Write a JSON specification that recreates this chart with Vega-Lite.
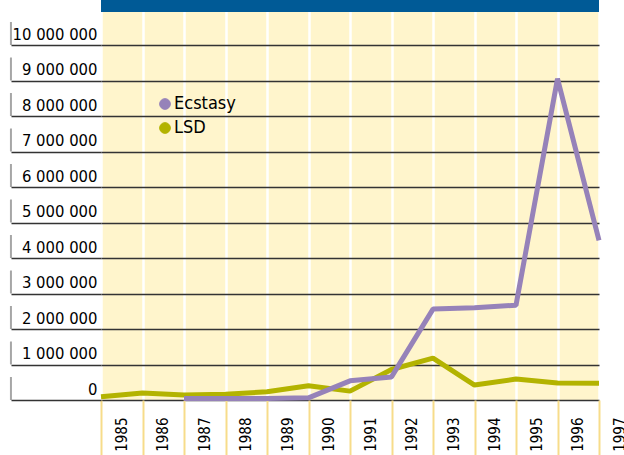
{
  "$schema": "https://vega.github.io/schema/vega-lite/v6.json",
  "width": 498,
  "height": 400,
  "autosize": {"type": "none"},
  "padding": {"left": 101, "top": 0, "right": 25, "bottom": 55},
  "background": "white",
  "config": {
    "view": {"fill": "#fff5cc", "stroke": null},
    "locale": {"number": {"decimal": ".", "thousands": " ", "grouping": [3], "currency": ["", ""]}},
    "font": "DejaVu Sans Condensed, Roboto, sans-serif",
    "axisX": {
      "format": "d", "title": null, "domain": false,
      "labelAngle": 270, "labelOffset": 20, "labelPadding": -38,
      "labelFontSize": 15, "labelColor": "#000000",
      "labelFlush": false, "labelBound": false, "labelOverlap": false,
      "tickSize": 55, "tickColor": "#f7dc8a", "tickWidth": 2,
      "grid": true, "gridColor": "#ffffff", "gridWidth": 2.5
    },
    "axisY": {
      "format": ",d", "title": null, "domain": false,
      "labelAlign": "right", "labelBaseline": "alphabetic", "labelOffset": -6, "labelPadding": -86,
      "labelFontSize": 16.5, "labelColor": "#000000",
      "labelFlush": false, "labelBound": false, "labelOverlap": false,
      "tickSize": 90, "tickColor": "#333333", "tickWidth": 1.3,
      "grid": true, "gridColor": "#333333", "gridWidth": 1.3
    }
  },
  "datasets": {
    "series": [
      {"year": 1985, "drug": "LSD", "seizures": 90000},
      {"year": 1986, "drug": "LSD", "seizures": 200000},
      {"year": 1987, "drug": "LSD", "seizures": 140000},
      {"year": 1988, "drug": "LSD", "seizures": 160000},
      {"year": 1989, "drug": "LSD", "seizures": 230000},
      {"year": 1990, "drug": "LSD", "seizures": 400000},
      {"year": 1991, "drug": "LSD", "seizures": 250000},
      {"year": 1992, "drug": "LSD", "seizures": 860000},
      {"year": 1993, "drug": "LSD", "seizures": 1180000},
      {"year": 1994, "drug": "LSD", "seizures": 420000},
      {"year": 1995, "drug": "LSD", "seizures": 590000},
      {"year": 1996, "drug": "LSD", "seizures": 480000},
      {"year": 1997, "drug": "LSD", "seizures": 470000},
      {"year": 1987, "drug": "Ecstasy", "seizures": 40000},
      {"year": 1988, "drug": "Ecstasy", "seizures": 40000},
      {"year": 1989, "drug": "Ecstasy", "seizures": 40000},
      {"year": 1990, "drug": "Ecstasy", "seizures": 60000},
      {"year": 1991, "drug": "Ecstasy", "seizures": 540000},
      {"year": 1992, "drug": "Ecstasy", "seizures": 650000},
      {"year": 1993, "drug": "Ecstasy", "seizures": 2560000},
      {"year": 1994, "drug": "Ecstasy", "seizures": 2600000},
      {"year": 1995, "drug": "Ecstasy", "seizures": 2670000},
      {"year": 1996, "drug": "Ecstasy", "seizures": 9050000},
      {"year": 1997, "drug": "Ecstasy", "seizures": 4500000}
    ],
    "levels": [
      {"seizures": 0}, {"seizures": 1000000}, {"seizures": 2000000}, {"seizures": 3000000},
      {"seizures": 4000000}, {"seizures": 5000000}, {"seizures": 6000000}, {"seizures": 7000000},
      {"seizures": 8000000}, {"seizures": 9000000}, {"seizures": 10000000}
    ]
  },
  "layer": [
    {
      "data": {"name": "series"},
      "mark": {"type": "line", "strokeWidth": 5, "strokeJoin": "bevel"},
      "encoding": {
        "x": {
          "field": "year", "type": "quantitative", "title": null,
          "scale": {"domain": [1985, 1997], "nice": false, "zero": false},
          "axis": {"values": [1985, 1986, 1987, 1988, 1989, 1990, 1991, 1992, 1993, 1994, 1995, 1996, 1997]}
        },
        "y": {
          "field": "seizures", "type": "quantitative", "title": null,
          "scale": {"domain": [0, 11268000], "nice": false, "zero": true},
          "axis": {"values": [0, 1000000, 2000000, 3000000, 4000000, 5000000, 6000000, 7000000, 8000000, 9000000, 10000000]}
        },
        "color": {
          "field": "drug", "type": "nominal",
          "scale": {"domain": ["Ecstasy", "LSD"], "range": ["#9682b9", "#b3b300"]},
          "legend": {
            "orient": "none", "legendX": 55, "legendY": 95, "title": null, "padding": 0,
            "symbolType": "circle", "symbolSize": 115, "symbolStrokeWidth": 1,
            "labelFontSize": 18, "labelColor": "#000000",
            "labelOffset": 0, "rowPadding": 6,
            "encode": {"symbols": {"update": {"fill": {"scale": "color", "field": "value"}}}}
          }
        }
      }
    },
    {
      "data": {"name": "levels"},
      "mark": {"type": "tick", "orient": "vertical", "size": 23, "thickness": 2, "color": "#808080", "yOffset": -11.5},
      "encoding": {
        "x": {"datum": 1982.83, "type": "quantitative", "title": null,
          "axis": {"values": [1985, 1986, 1987, 1988, 1989, 1990, 1991, 1992, 1993, 1994, 1995, 1996, 1997]}},
        "y": {"field": "seizures", "type": "quantitative", "title": null,
          "axis": {"values": [0, 1000000, 2000000, 3000000, 4000000, 5000000, 6000000, 7000000, 8000000, 9000000, 10000000]}}
      }
    },
    {
      "data": {"name": "levels"},
      "mark": {"type": "rect", "color": "#005a96"},
      "encoding": {
        "x": {"datum": 1985, "type": "quantitative", "title": null,
          "axis": {"values": [1985, 1986, 1987, 1988, 1989, 1990, 1991, 1992, 1993, 1994, 1995, 1996, 1997]}},
        "x2": {"datum": 1997},
        "y": {"datum": 10944000, "type": "quantitative", "title": null,
          "axis": {"values": [0, 1000000, 2000000, 3000000, 4000000, 5000000, 6000000, 7000000, 8000000, 9000000, 10000000]}},
        "y2": {"datum": 11268000}
      }
    }
  ]
}
